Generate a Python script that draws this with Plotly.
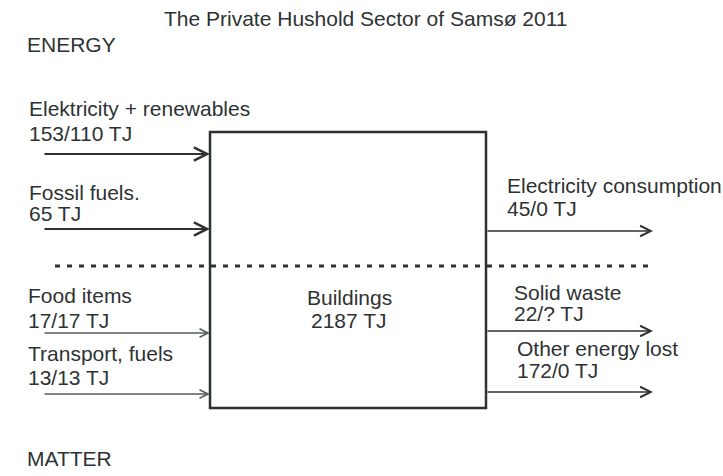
import plotly.graph_objects as go

# ---- data ----
title_text = "The Private Hushold Sector of Samsø 2011"
section_labels = ["ENERGY", "MATTER"]
center_label = "Buildings"
center_value = "2187 TJ"

energy_in_names = ["Elektricity + renewables", "Fossil fuels."]
energy_in_values = ["153/110 TJ", "65 TJ"]
matter_in_names = ["Food items", "Transport, fuels"]
matter_in_values = ["17/17 TJ", "13/13 TJ"]

energy_out_names = ["Electricity consumption"]
energy_out_values = ["45/0 TJ"]
matter_out_names = ["Solid waste", "Other energy lost"]
matter_out_values = ["22/? TJ", "172/0 TJ"]

# ---- layout geometry (pixels) ----
W, H = 723, 476
BOX = dict(x0=210, x1=486, y0=132, y1=408)
IN_X0 = 43
OUT_X1 = 653
DASH_Y = 266

energy_in_arrow_y = [154, 229]
energy_in_text_y = [(108, 133), (192, 213)]
matter_in_arrow_y = [333, 394]
matter_in_text_y = [(295, 320), (353, 377)]
energy_out_arrow_y = [231]
energy_out_text = [(505, 185, 208)]
matter_out_arrow_y = [331, 392]
matter_out_text = [(512, 292, 313), (515, 348, 370)]

TXT = "#2e3233"
LINE = "#2e3233"
FONT = "Arial, Liberation Sans, sans-serif"
FS = 21

fig = go.Figure()
fig.add_trace(go.Scatter(x=[0, W], y=[0, H], mode="markers",
                         marker=dict(opacity=0), hoverinfo="skip", showlegend=False))

shapes = [
    dict(type="rect", xref="x", yref="y", **BOX, line=dict(color=LINE, width=2.5)),
    dict(type="line", xref="x", yref="y", x0=55, x1=OUT_X1, y0=DASH_Y, y1=DASH_Y,
         line=dict(color=LINE, width=3, dash="5px,7px")),
]

ann = []

def text(x, y, s, anchor="left", size=FS):
    ann.append(dict(x=x, y=y, xref="x", yref="y", text=s, showarrow=False,
                    xanchor=anchor, yanchor="middle",
                    font=dict(family=FONT, size=size, color=TXT)))

def arrow(x0, x1, y, width, color, size):
    ann.append(dict(x=x1, y=y, ax=x0, ay=y, xref="x", yref="y", axref="x", ayref="y",
                    text="", showarrow=True, arrowhead=5, arrowsize=size,
                    arrowwidth=width, arrowcolor=color, standoff=0))

text(365, 18, title_text, anchor="center")
text(25, 44, section_labels[0])
text(25, 458, section_labels[1])
text(349, 297, center_label, anchor="center")
text(349, 320, center_value, anchor="center")

for name, val, (ty1, ty2), ay in zip(energy_in_names, energy_in_values, energy_in_text_y, energy_in_arrow_y):
    text(27, ty1, name)
    text(27, ty2, val)
    arrow(IN_X0, BOX["x0"], ay, 2, LINE, 1.3)

for name, val, (ty1, ty2), ay in zip(matter_in_names, matter_in_values, matter_in_text_y, matter_in_arrow_y):
    text(26, ty1, name)
    text(26, ty2, val)
    arrow(IN_X0, BOX["x0"], ay, 1.3, "#5a5e60", 1.3)

for name, val, (tx, ty1, ty2), ay in zip(energy_out_names, energy_out_values, energy_out_text, energy_out_arrow_y):
    text(tx, ty1, name)
    text(tx, ty2, val)
    arrow(BOX["x1"], OUT_X1, ay, 1.6, LINE, 1.3)

for name, val, (tx, ty1, ty2), ay in zip(matter_out_names, matter_out_values, matter_out_text, matter_out_arrow_y):
    text(tx, ty1, name)
    text(tx, ty2, val)
    arrow(BOX["x1"], OUT_X1, ay, 1.6, LINE, 1.3)

fig.update_layout(
    width=W, height=H, margin=dict(l=0, r=0, t=0, b=0),
    paper_bgcolor="white", plot_bgcolor="white",
    xaxis=dict(range=[0, W], visible=False, fixedrange=True),
    yaxis=dict(range=[H, 0], visible=False, fixedrange=True),
    shapes=shapes, annotations=ann, showlegend=False,
)

fig.write_html("out.html", config={"displayModeBar": False, "staticPlot": True},
               post_script="document.body.style.margin='0';document.body.style.overflow='hidden';")
